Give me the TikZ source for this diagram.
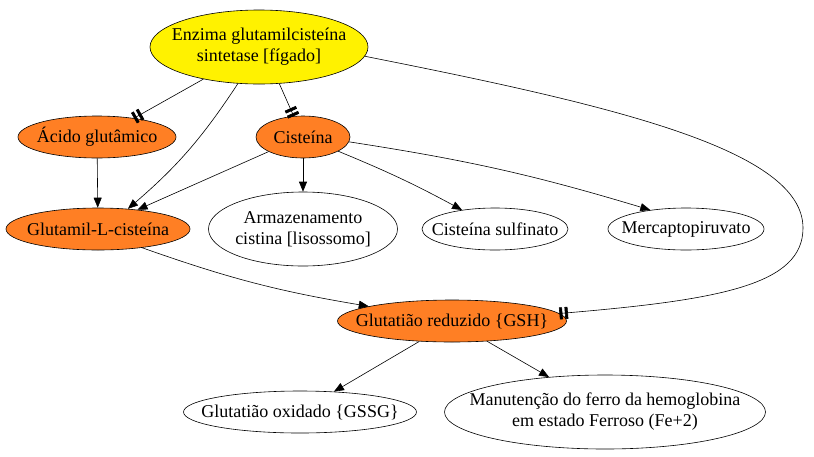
\documentclass[tikz,border=0pt]{standalone}
\usepackage{fontspec}
\setmainfont{Liberation Serif}
\usepackage{xcolor}
\usetikzlibrary{shapes.geometric, arrows.meta, calc}
\definecolor{laranja}{RGB}{255,127,36}

\begin{document}
\begin{tikzpicture}[
x=1pt,y=-1pt,
font=\fontsize{18}{21}\selectfont,
elem/.style={
    ellipse,inner xsep=-40pt,inner ysep=-10pt,line width=0.6pt,draw=black,fill=laranja,align=center
},
fim/.style={
    ellipse,inner xsep=-40pt,inner ysep=-10pt,line width=0.6pt,draw=black,fill=white,align=center
},
seta/.style={-{Triangle[length=10pt,width=8pt]},line width=0.6pt},
bloq/.style={-{Rectangle[length=3pt,width=12pt,sep=2.5pt]Rectangle[length=3pt,width=12pt]},line width=0.6pt}
]
    \useasboundingbox (0,0) rectangle (814,456);
    \node(E)[elem,fill=yellow,minimum width=218pt,minimum height=74pt] at (259,47){Enzima glutamilcisteína\\sintetase [fígado]};
    \node(A)[elem,minimum width=158pt,minimum height=42pt] at (97,137){Ácido glutâmico};
    \node(C)[elem,minimum width=94pt,minimum height=42pt] at (303,137){Cisteína};
    \node(GL)[elem,minimum width=184pt,minimum height=42pt] at (98,229){Glutamil-L-cisteína};
    \node(AR)[fim,minimum width=189pt,minimum height=74pt] at (303,229){Armazenamento\\cistina [lisossomo]};
    \node(CS)[fim,minimum width=146pt,minimum height=42pt] at (495,229){Cisteína sulfinato};
    \node(M)[fim,minimum width=156pt,minimum height=42pt] at (686,229){Mercaptopiruvato};
    \node(G)[elem,minimum width=229pt,minimum height=42pt] at (452,321){Glutatião reduzido \{GSH\}};
    \node(GS)[fim,minimum width=233pt,minimum height=42pt] at (300,412){Glutatião oxidado \{GSSG\}};
    \node(MF)[fim,minimum width=321pt,minimum height=74pt] at (605,412){Manutenção do ferro da hemoglobina\\em estado Ferroso (Fe+2)};
    \coordinate(curva) at (803,228);

    \draw[bloq] (E.210) to (A.27);
    \draw[bloq] (E.299) to (C.114);
    \draw[seta,bend left=8] (E.240) to (GL.34);
    \draw[bloq] (E.355) .. controls (616,106) and (803,150) .. (curva)
        .. controls (803,285) and (720,300) .. (G.4);
    \draw[seta] (A) to (GL);
    \draw[seta] (C.203) to (GL.26);
    \draw[seta] (C) to (AR);
    \draw[seta,bend left=3] (C.338) to (CS.150);
    \draw[seta,bend left=4] (C.354) to (M.152);
    \draw[seta,bend right=5] (GL.337) to (G.170);
    \draw[seta] (G.212) to (GS.31);
    \draw[seta] (G.330) to (MF.148);
\end{tikzpicture}
\end{document}
